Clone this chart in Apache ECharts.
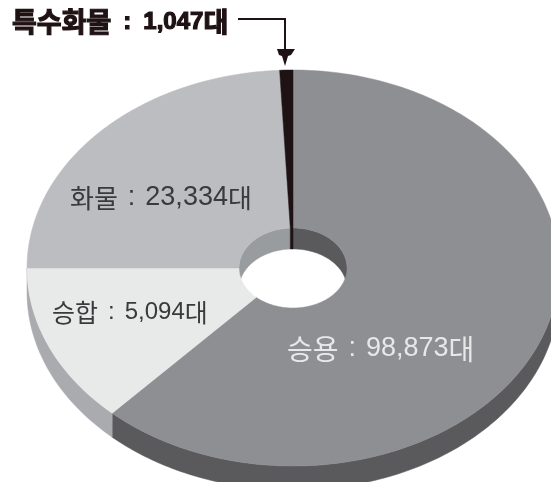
<!DOCTYPE html>
<html>
<head>
<meta charset="utf-8">
<style>html,body{margin:0;padding:0;background:#fff}#c{width:551px;height:482px;filter:blur(0.45px)}</style>
<script src="https://cdn.jsdelivr.net/npm/echarts@6/dist/echarts.min.js"></script>
</head>
<body>
<div id="c"></div>
<script>
// Data, clockwise from 12 o'clock
const categories = ['승용', '승합', '화물', '특수화물'];
const vehicleCounts = [98873, 5094, 23334, 1047];
// The drawing is not to scale: each slice's share of the circle (%)
const drawnShares = [61.9, 13.1, 24.2, 0.8];
const topColors = ['#8e8f93', '#e8e9e9', '#bcbdc1', '#1e1214'];
const wallColors = ['#5a5a5c', '#a9abae', '#999c9e', '#1e1214'];

const CX = 293, CY = 268, RX = 266, RY = 198, HRX = 54, HRY = 40, DEPTH = 24, HOLE_DEPTH = 21;
const total = drawnShares.reduce((a, b) => a + b, 0);
function sliceAngles(i) {
  let s = 0;
  for (let k = 0; k < i; k++) s += drawnShares[k];
  return [s / total * 360, (s + drawnShares[i]) / total * 360];
}
function arc(rx, ry, dy, a0, a1) {
  const pts = [], n = Math.max(2, Math.ceil(Math.abs(a1 - a0)));
  for (let j = 0; j <= n; j++) {
    const t = (a0 + (a1 - a0) * j / n) * Math.PI / 180;
    pts.push([CX + rx * Math.sin(t), CY + dy - ry * Math.cos(t)]);
  }
  return pts;
}
function renderWall(params) {
  const i = params.dataIndex, [a0, a1] = sliceAngles(i);
  const children = [];
  const style = { fill: wallColors[i], stroke: wallColors[i], lineWidth: 0.5 };
  // outer wall: front half only
  const f0 = Math.max(a0, 90), f1 = Math.min(a1, 270);
  if (f1 > f0) {
    children.push({ type: 'polygon', shape: { points: arc(RX, RY, 0, f0, f1).concat(arc(RX, RY, DEPTH, f1, f0)) }, style });
  }
  // inner wall of the hole: far half only
  [[a0, Math.min(a1, 90)], [Math.max(a0, 270), a1]].forEach(([b0, b1]) => {
    if (b1 > b0) {
      children.push({ type: 'polygon', shape: { points: arc(HRX, HRY, 0, b0, b1).concat(arc(HRX, HRY, HOLE_DEPTH, b1, b0)) }, style });
    }
  });
  return { type: 'group', children };
}
function renderTop(params) {
  const i = params.dataIndex, [a0, a1] = sliceAngles(i);
  return {
    type: 'polygon',
    shape: { points: arc(RX, RY, 0, a0, a1).concat(arc(HRX, HRY, 0, a1, a0)) },
    style: { fill: topColors[i], stroke: topColors[i], lineWidth: 0.5 }
  };
}
const HANGUL = '"Noto Sans CJK KR", sans-serif', LATIN = '"Liberation Sans", sans-serif';
// One label: "name : count대", with the Hangul and the digits in their own runs
function label(i, x, y, o) {
  const ink = { fill: o.color, stroke: o.bold ? o.color : null, lineWidth: o.bold ? 1.2 : 0, fontWeight: o.bold ? 'bold' : 'normal' };
  return {
    type: 'text', x, y, z: 10,
    style: {
      text: '{h|' + categories[i] + '}{s|:}{n|' + vehicleCounts[i].toLocaleString('en-US') + '}{h|대}',
      verticalAlign: 'middle',
      rich: {
        h: Object.assign({ fontFamily: HANGUL, fontSize: o.hangul }, ink),
        s: Object.assign({ fontFamily: LATIN, fontSize: o.digits, padding: [0, o.gap, 0, o.gap] }, ink),
        n: Object.assign({ fontFamily: LATIN, fontSize: o.digits }, ink)
      }
    }
  };
}
const chart = echarts.init(document.getElementById('c'), null, { renderer: 'canvas' });
chart.setOption({
  animation: false,
  backgroundColor: '#fff',
  series: [
    { type: 'custom', coordinateSystem: 'none', silent: true, data: vehicleCounts, renderItem: renderWall, z: 1 },
    { type: 'custom', coordinateSystem: 'none', silent: true, data: vehicleCounts, renderItem: renderTop, z: 2 }
  ],
  graphic: [
    label(3, 12, 22, { hangul: 27, digits: 24, gap: 12, color: '#1e1214', bold: true }),
    label(2, 70, 198, { hangul: 26, digits: 27, gap: 10, color: '#3a3a3c' }),
    label(1, 52, 312, { hangul: 25, digits: 24, gap: 10, color: '#3a3a3c' }),
    label(0, 287, 349, { hangul: 28, digits: 27, gap: 10, color: '#e8e8e8' }),
    { type: 'polyline', z: 10, shape: { points: [[238, 19], [285, 19], [285, 52]] }, style: { stroke: '#1e1214', lineWidth: 2, fill: null } },
    { type: 'polygon', z: 10, shape: { points: [[277, 49], [295, 49], [291, 55], [288, 56], [285, 66], [282, 56], [279, 55]] }, style: { fill: '#1e1214' } }
  ]
});
</script>
</body>
</html>
